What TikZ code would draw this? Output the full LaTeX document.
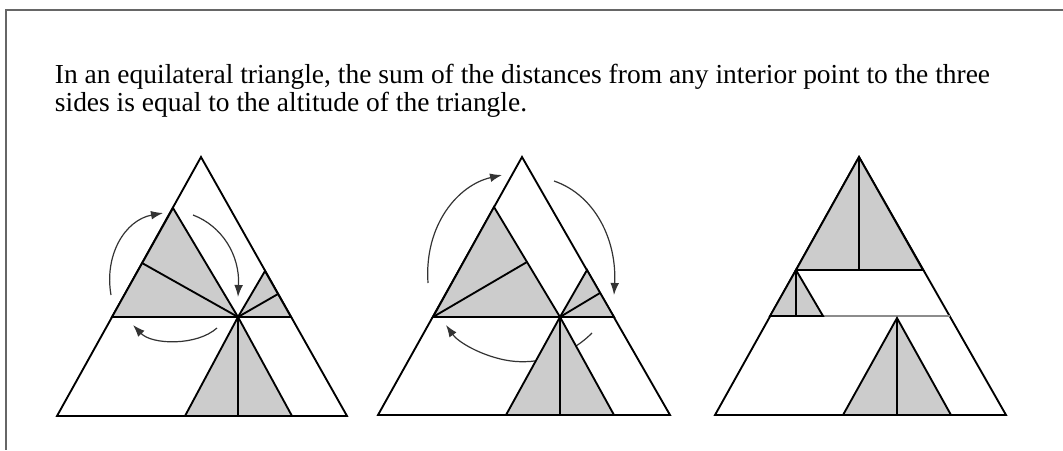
\documentclass[tikz,border=0pt]{standalone}
\usepackage{fontspec}
\setmainfont{Liberation Serif}
\usetikzlibrary{arrows.meta}
\begin{document}
\begin{tikzpicture}[x=0.75pt, y=-0.75pt,
	every path/.style={line width=1.4pt},
	shaded/.style={fill=black!20, draw=black, line join=miter},
	turn/.style={line width=0.9pt, draw=black!80, -{Latex[length=9pt,width=6.5pt]}},
	frame/.style={line width=1.5pt, draw=black!60}]
	\useasboundingbox (0,0) rectangle (1063,450);
	\draw[frame] (1063,10) -- (6,10) -- (6,450);
	\node (claim) [anchor=base west, align=left, inner sep=0,
		font=\fontsize{20.6}{21}\selectfont] at (54,111)
		{In an equilateral triangle, the sum of the distances from any interior point to the three\\
		sides is equal to the altitude of the triangle.};

	% first triangle
	\coordinate (p1) at (238,317);
	\draw[turn] (111,295) .. controls (104,255) and (125,220) .. (163,213);
	\draw[turn] (193,215) .. controls (222,226) and (240,255) .. (238,297);
	\draw[turn] (217,328) .. controls (197,346) and (152,345) .. (133,325);
	\draw (201,157) -- (57,416) -- (347,416) -- cycle;
	\draw (112,317) -- (291,317);
	\draw[shaded] (112,317) -- (173,208) -- (p1) -- cycle;
	\draw (142,263) -- (p1);
	\draw[shaded] (265,271) -- (p1) -- (291,317) -- cycle;
	\draw (278,294) -- (p1);
	\draw[shaded] (185,416) -- (p1) -- (292,416) -- cycle;
	\draw (p1) -- (238,416);

	% second triangle
	\coordinate (p2) at (560,317);
	\draw[turn] (428,283) .. controls (424,225) and (458,185) .. (502,175);
	\draw[turn] (554,181) .. controls (595,195) and (617,240) .. (614,295);
	\draw[turn] (592,333) .. controls (565,360) and (530,365) .. (505,360)
		.. controls (480,355) and (458,342) .. (446,325);
	\draw (522,157) -- (378,415) -- (670,415) -- cycle;
	\draw (433,317) -- (614,317);
	\draw[shaded] (433,317) -- (494,207) -- (p2) -- cycle;
	\draw (433,317) -- (527,262);
	\draw[shaded] (587,270) -- (p2) -- (614,317) -- cycle;
	\draw (600,293) -- (p2);
	\draw[shaded] (506,415) -- (p2) -- (614,415) -- cycle;
	\draw (p2) -- (560,415);

	% third triangle
	\draw (859,157) -- (715,415) -- (1006,415) -- cycle;
	\draw (796,270) -- (923,270);
	\draw[line width=0.8pt, black!45] (823,316) -- (950,316);
	\draw[shaded] (859,157) -- (796,270) -- (923,270) -- cycle;
	\draw (859,157) -- (859,270);
	\draw[shaded] (796,270) -- (770,316) -- (823,316) -- cycle;
	\draw (796,270) -- (796,316);
	\draw[shaded] (897,318) -- (843,415) -- (951,415) -- cycle;
	\draw (897,318) -- (897,415);
\end{tikzpicture}
\end{document}
